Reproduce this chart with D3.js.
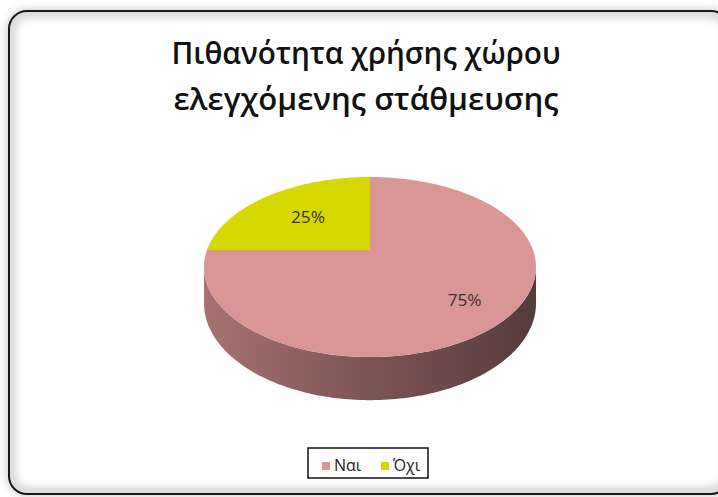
<!DOCTYPE html>
<html>
<head>
<meta charset="utf-8">
<script src="https://cdn.jsdelivr.net/npm/d3@7"></script>
<style>
  body { margin: 0; background: #fff; }
  svg { display: block; }
</style>
</head>
<body>
<div class="chart"></div>
<script>
// chart data
var categories = ["Ναι", "Όχι"];
var values = [75, 25];
var labels = ["75%", "25%"];
var colors = ["#d99695", "#d6d800"];
var titleLines = ["Πιθανότητα χρήσης χώρου", "ελεγχόμενης στάθμευσης"];

var width = 718,
	height = 497;

var svg = d3.select(".chart").append("svg")
	.attr("width", width)
	.attr("height", height);

var defs = svg.append("defs");

// frame with soft inner shadow
var shadow = defs.append("filter").attr("id", "inner")
	.attr("x", "-5%").attr("y", "-5%").attr("width", "110%").attr("height", "110%");
shadow.append("feGaussianBlur").attr("stdDeviation", 5);

var frame = svg.append("g");
frame.append("rect")
	.attr("x", 9).attr("y", 11)
	.attr("width", 720).attr("height", 483)
	.attr("rx", 18)
	.attr("fill", "#fff");
frame.append("rect")
	.attr("x", 11).attr("y", 13)
	.attr("width", 716).attr("height", 479)
	.attr("rx", 16)
	.attr("fill", "none")
	.attr("stroke", "#bbb")
	.attr("stroke-width", 6)
	.attr("filter", "url(#inner)");
frame.append("rect")
	.attr("x", 9).attr("y", 11)
	.attr("width", 720).attr("height", 483)
	.attr("rx", 18)
	.attr("fill", "none")
	.attr("stroke", "#1a1a1a")
	.attr("stroke-width", 2);

// title
svg.selectAll(".title")
	.data(titleLines)
	.enter().append("text")
	.attr("class", "title")
	.attr("x", 366)
	.attr("y", function(d, i) { return 64 + i * 46; })
	.attr("text-anchor", "middle")
	.attr("font-family", "'Open Sans', sans-serif")
	.attr("font-weight", 600)
	.attr("font-size", 30)
	.attr("fill", "#111")
	.attr("textLength", function(d, i) { return i ? 385 : 389; })
	.attr("lengthAdjust", "spacingAndGlyphs")
	.text(function(d) { return d; });

// 3d pie projection: unit disc -> screen, with perspective
var cx = 370, cy = 250,
	a = 163, b = 86.8, p = 0.189,
	depth = 35;

function proj(ang, r, dz) {
	var u = r * Math.sin(ang),
		v = -r * Math.cos(ang),
		s = 1 / (1 - p * v);
	return [cx + a * u * s, cy + (b * v + dz) * s];
}

var pie = d3.pie().sort(null).value(function(d) { return d; });
var arcs = pie(values);

var line = d3.line();

function rim(a0, a1, dz) {
	var n = Math.max(2, Math.ceil((a1 - a0) / 0.02));
	return d3.range(n + 1).map(function(i) {
		return proj(a0 + (a1 - a0) * i / n, 1, dz);
	});
}

// side gradients
arcs.forEach(function(d, i) {
	var base = d3.color(colors[i]);
	var g = defs.append("linearGradient").attr("id", "side" + i)
		.attr("x1", 0).attr("x2", 1).attr("y1", 0).attr("y2", 0);
	g.append("stop").attr("offset", "0%").attr("stop-color", base.darker(0.75));
	g.append("stop").attr("offset", "45%").attr("stop-color", base.darker(1.5));
	g.append("stop").attr("offset", "100%").attr("stop-color", base.darker(2.6));
});

// visible front part of the rim
var aR = Math.acos(-p),
	aL = 2 * Math.PI - aR;

var pieG = svg.append("g");

arcs.forEach(function(d, i) {
	var s0 = Math.max(d.startAngle, aR),
		s1 = Math.min(d.endAngle, aL);
	if (s1 <= s0) return;
	var pts = rim(s0, s1, 0).concat(rim(s0, s1, depth).reverse());
	pieG.append("path")
		.attr("d", line(pts) + "Z")
		.attr("fill", "url(#side" + i + ")");
});

arcs.forEach(function(d, i) {
	var pts = [proj(0, 0, 0)].concat(rim(d.startAngle, d.endAngle, 0));
	pieG.append("path")
		.attr("d", line(pts) + "Z")
		.attr("fill", colors[i]);
});

// labels, big slice pushed further out
function labelR(d) { return d.endAngle - d.startAngle > Math.PI ? 0.74 : 0.58; }

pieG.selectAll(".lbl")
	.data(arcs)
	.enter().append("text")
	.attr("class", "lbl")
	.attr("x", function(d) {
		var m = (d.startAngle + d.endAngle) / 2;
		return proj(m, labelR(d), 0)[0];
	})
	.attr("y", function(d) {
		var m = (d.startAngle + d.endAngle) / 2;
		return proj(m, labelR(d), 0)[1] + 6;
	})
	.attr("text-anchor", "middle")
	.attr("font-family", "'Open Sans', sans-serif")
	.attr("font-size", 16)
	.attr("fill", "#3a3030")
	.attr("textLength", 34)
	.attr("lengthAdjust", "spacingAndGlyphs")
	.text(function(d, i) { return labels[i]; });

// legend
var legend = svg.append("g");
legend.append("rect")
	.attr("x", 308).attr("y", 448)
	.attr("width", 120).attr("height", 30)
	.attr("fill", "#fff")
	.attr("stroke", "#111")
	.attr("stroke-width", 1.5);

var legX = [322, 381];
var items = legend.selectAll(".item")
	.data(categories)
	.enter().append("g")
	.attr("class", "item")
	.attr("transform", function(d, i) { return "translate(" + legX[i] + ",462)"; });
items.append("rect")
	.attr("width", 8).attr("height", 8)
	.attr("fill", function(d, i) { return colors[i]; });
items.append("text")
	.attr("x", 12).attr("y", 9)
	.attr("font-family", "'Open Sans', sans-serif")
	.attr("font-size", 16)
	.attr("fill", "#222")
	.text(function(d) { return d; });
</script>
</body>
</html>
